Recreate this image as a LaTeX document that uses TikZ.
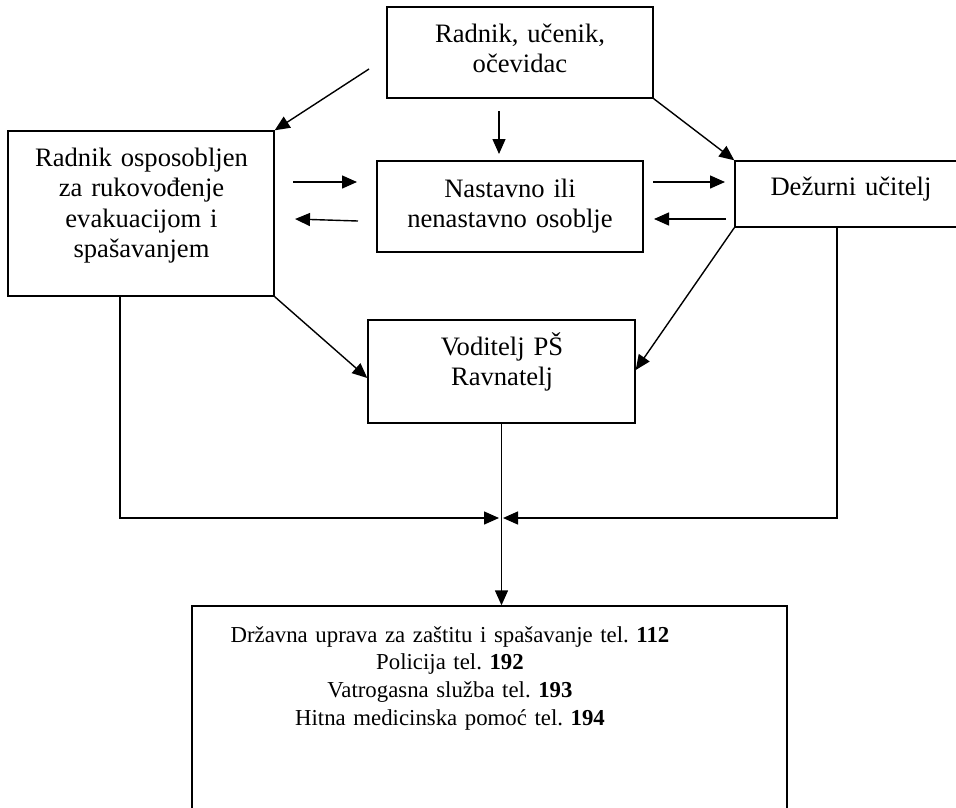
\documentclass[tikz,border=0pt]{standalone}
\usepackage{fontspec}
\setmainfont{Liberation Serif}
\usetikzlibrary{arrows.meta}
\frenchspacing
\begin{document}
\begin{tikzpicture}[x=1pt,y=-1pt,
  box/.style={draw,line width=1.4pt,inner sep=0pt,rectangle},
  txt/.style={inner sep=0pt,align=center,text width=300pt,font=\fontsize{26.6}{30.5}\selectfont},
  stxt/.style={inner sep=0pt,align=center,text width=560pt,font=\fontsize{22.8}{27.7}\selectfont},
  arr/.style={line width=1.4pt,-{Triangle[length=15pt,width=13pt]}}]
\useasboundingbox (0,0) rectangle (956,807);
\clip (0,0) rectangle (956,807);
% boxes
\node[box,minimum width=266pt,minimum height=91pt] (top) at (520,52.5) {};
\node[box,minimum width=266pt,minimum height=165pt] (left) at (141,213.5) {};
\node[box,minimum width=266pt,minimum height=91pt] (nast) at (510,206.5) {};
\node[box,minimum width=232pt,minimum height=66pt] (dez) at (851,194) {};
\node[box,minimum width=267pt,minimum height=103pt] (vod) at (501.5,371.5) {};
\node[box,minimum width=595pt,minimum height=224pt] (bot) at (489.5,718) {};
% texts
\node[txt,anchor=base] (ttop) at (520,42) {Radnik, učenik,\\očevidac};
\node[txt,anchor=base] (tleft) at (141.5,166) {Radnik osposobljen\\za rukovođenje\\evakuacijom i\\spašavanjem};
\node[txt,anchor=base] (tnast) at (510,197) {Nastavno ili\\nenastavno osoblje};
\node[txt,anchor=base] (tdez) at (851,195) {Dežurni učitelj};
\node[txt,anchor=base] (tvod) at (502,355) {Voditelj PŠ\\Ravnatelj};
\node[stxt,anchor=base] (tbot) at (450,642) {Državna uprava za zaštitu i spašavanje tel. \textbf{112}\\Policija tel. \textbf{192}\\Vatrogasna služba tel. \textbf{193}\\Hitna medicinska pomoć tel. \textbf{194}};
% free coordinates
\coordinate (a1) at (369,69);
\coordinate (d1) at (499,111);
\coordinate (d2) at (499,154);
\coordinate (r1s) at (293,182);
\coordinate (r1e) at (357,182);
\coordinate (l1s) at (358,221);
\coordinate (l1e) at (295,219);
\coordinate (r2s) at (653,182);
\coordinate (r2e) at (725,182);
\coordinate (l2s) at (726,219);
\coordinate (l2e) at (654,219);
\coordinate (c1) at (120,518);
\coordinate (c1e) at (499,518);
\coordinate (c2) at (837,518);
\coordinate (c2e) at (503,518);
% connectors
\draw[arr] (a1) -- (left.north east);
\draw[arr] (d1) -- (d2);
\draw[arr] (top.south east) -- (dez.north west);
\draw[arr] (r1s) -- (r1e);
\draw[arr] (l1s) -- (l1e);
\draw[arr] (r2s) -- (r2e);
\draw[arr] (l2s) -- (l2e);
\draw[arr] (dez.south west) -- (vod.east |- 0,370);
\draw[arr] (left.south east) -- (vod.west |- 0,378);
\draw[arr] (left.south -| c1) -- (c1) -- (c1e);
\draw[arr] (dez.south -| c2) -- (c2) -- (c2e);
\draw[arr] (vod.south) -- (vod.south |- bot.north);
\end{tikzpicture}
\end{document}
